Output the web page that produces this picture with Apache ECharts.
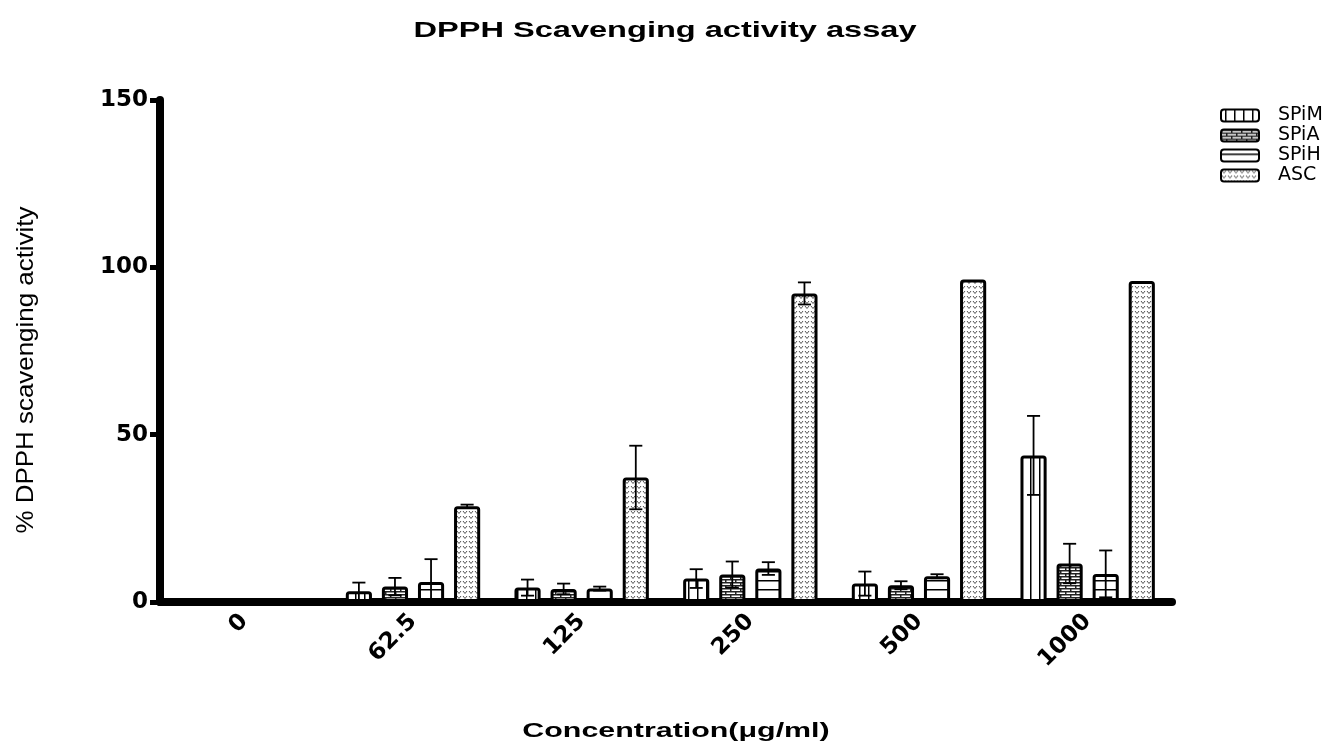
<!DOCTYPE html>
<html>
<head>
<meta charset="utf-8">
<script src="https://cdn.jsdelivr.net/npm/echarts@6/dist/echarts.min.js"></script>
<style>
  html, body { margin: 0; padding: 0; background: #fff; overflow: hidden; }
  #chart { width: 1342px; height: 747px; }
</style>
</head>
<body>
<div id="chart"></div>
<script>
// concentrations (µg/ml)
const categories = ['0', '62.5', '125', '250', '500', '1000'];
const seriesNames = ['SPiM', 'SPiA', 'SPiH', 'ASC'];

// mean % scavenging
const spimMean = [0, 3.2, 4.3, 7.0, 5.5, 43.8];
const spiaMean = [0, 4.6, 3.9, 8.2, 5.0, 11.5];
const spihMean = [0, 6.0, 4.0, 10.0, 7.7, 8.4];
const ascMean  = [0, 28.6, 37.2, 92.2, 96.4, 95.9];

// standard deviations
const spimSd = [0, 2.6, 2.4, 2.8, 3.6, 11.8];
const spiaSd = [0, 2.6, 1.6, 3.9, 1.2, 5.9];
const spihSd = [0, 6.8, 0.6, 1.9, 0.6, 7.0];
const ascSd  = [0, 0.5, 9.5, 3.3, 0, 0];

const means = [spimMean, spiaMean, spihMean, ascMean];
const sds = [spimSd, spiaSd, spihSd, ascSd];

// hatch patterns like the prism fills
function makePattern(w, h, draw) {
  const c = document.createElement('canvas');
  c.width = w; c.height = h;
  const ctx = c.getContext('2d');
  ctx.fillStyle = '#fff';
  ctx.fillRect(0, 0, w, h);
  draw(ctx);
  return { image: c, repeat: 'repeat' };
}

const patterns = [
  // vertical lines
  makePattern(9, 4, ctx => {
    ctx.fillStyle = '#000';
    ctx.fillRect(4, 0, 1.5, 4);
  }),
  // bricks
  makePattern(10, 6, ctx => {
    ctx.fillStyle = '#222';
    ctx.fillRect(0, 0, 10, 1.5);
    ctx.fillRect(0, 3, 10, 1.5);
    ctx.fillRect(0, 0, 1.5, 3);
    ctx.fillRect(5, 3, 1.5, 3);
  }),
  // horizontal lines
  makePattern(4, 9, ctx => {
    ctx.fillStyle = '#000';
    ctx.fillRect(0, 4, 4, 1.5);
  }),
  // small gray v's
  makePattern(6, 5, ctx => {
    ctx.strokeStyle = '#555';
    ctx.lineWidth = 1;
    ctx.beginPath();
    ctx.moveTo(1, 1); ctx.lineTo(3, 3.5); ctx.lineTo(5, 1);
    ctx.stroke();
  })
];

const BAR_FRAC = 0.155;
const GAP = 0.38;

const barSeries = seriesNames.map((name, i) => ({
  name: name,
  type: 'bar',
  barWidth: (BAR_FRAC * 100) + '%',
  barGap: (GAP * 100) + '%',
  data: means[i],
  itemStyle: {
    color: patterns[i],
    borderColor: '#000',
    borderWidth: 3,
    borderRadius: 2
  },
  emphasis: { disabled: true }
}));

const errSeries = seriesNames.map((name, i) => ({
  type: 'custom',
  name: name + ' err',
  z: 5,
  silent: true,
  data: categories.map((c, k) => [k, means[i][k], sds[i][k]]),
  encode: { x: 0, y: 1 },
  renderItem: function (params, api) {
    const idx = api.value(0);
    const m = api.value(1);
    const sd = api.value(2);
    if (!sd) return null;
    const band = api.size([1, 0])[0];
    const bw = band * BAR_FRAC;
    const dx = (i - 1.5) * bw * (1 + GAP);
    const hi = api.coord([idx, m + sd]);
    const lo = api.coord([idx, Math.max(0, m - sd)]);
    const x = hi[0] + dx;
    const cap = bw * 0.25;
    const style = { stroke: '#000', lineWidth: 1.8 };
    return {
      type: 'group',
      children: [
        { type: 'line', shape: { x1: x, y1: hi[1], x2: x, y2: lo[1] }, style: style },
        { type: 'line', shape: { x1: x - cap, y1: hi[1], x2: x + cap, y2: hi[1] }, style: style },
        { type: 'line', shape: { x1: x - cap, y1: lo[1], x2: x + cap, y2: lo[1] }, style: style }
      ]
    };
  }
}));

const chart = echarts.init(document.getElementById('chart'));
chart.setOption({
  animation: false,
  backgroundColor: '#fff',
  // prism draws its text wide, so title and axis names are stretched a bit
  graphic: [
    {
      type: 'text',
      x: 665,
      y: 31,
      scaleX: 1.48,
      style: {
        text: 'DPPH Scavenging activity assay',
        font: 'bold 22px "Liberation Sans", Arial, sans-serif',
        fill: '#000',
        textAlign: 'center',
        textVerticalAlign: 'middle'
      }
    },
    {
      type: 'text',
      x: 676,
      y: 731,
      scaleX: 1.52,
      style: {
        text: 'Concentration(\u03bcg/ml)',
        font: 'bold 20px "Liberation Sans", Arial, sans-serif',
        fill: '#000',
        textAlign: 'center',
        textVerticalAlign: 'middle'
      }
    },
    {
      type: 'text',
      x: 26,
      y: 370,
      rotation: Math.PI / 2,
      scaleX: 1.08,
      style: {
        text: '% DPPH scavenging activity',
        font: '24px "Liberation Sans", Arial, sans-serif',
        fill: '#000',
        textAlign: 'center',
        textVerticalAlign: 'middle'
      }
    }
  ],
  legend: {
    data: seriesNames,
    orient: 'vertical',
    left: 1215,
    top: 101,
    itemWidth: 38,
    itemHeight: 12,
    itemGap: 1,
    textStyle: { fontFamily: 'DejaVu Sans', fontSize: 19, lineHeight: 18, color: '#000', padding: [0, 0, 0, 14] }
  },
  grid: { left: 160, right: 170, top: 100, bottom: 145, outerBoundsMode: 'none' },
  xAxis: {
    type: 'category',
    data: categories,
    axisLine: { lineStyle: { color: '#000', width: 8 } },
    axisTick: { alignWithLabel: true, length: 7, lineStyle: { color: '#000', width: 7 } },
    axisLabel: { rotate: 45, margin: 16, fontFamily: 'DejaVu Sans', fontWeight: 'bold', fontSize: 23, color: '#000' }
  },
  yAxis: {
    type: 'value',
    min: 0,
    max: 150,
    interval: 50,
    axisLine: { show: true, lineStyle: { color: '#000', width: 8 } },
    axisTick: { show: true, length: 10, lineStyle: { color: '#000', width: 5 } },
    axisLabel: { margin: 12, fontFamily: 'DejaVu Sans', fontWeight: 'bold', fontSize: 23, color: '#000' },
    splitLine: { show: false }
  },
  series: barSeries.concat(errSeries)
});
</script>
</body>
</html>
